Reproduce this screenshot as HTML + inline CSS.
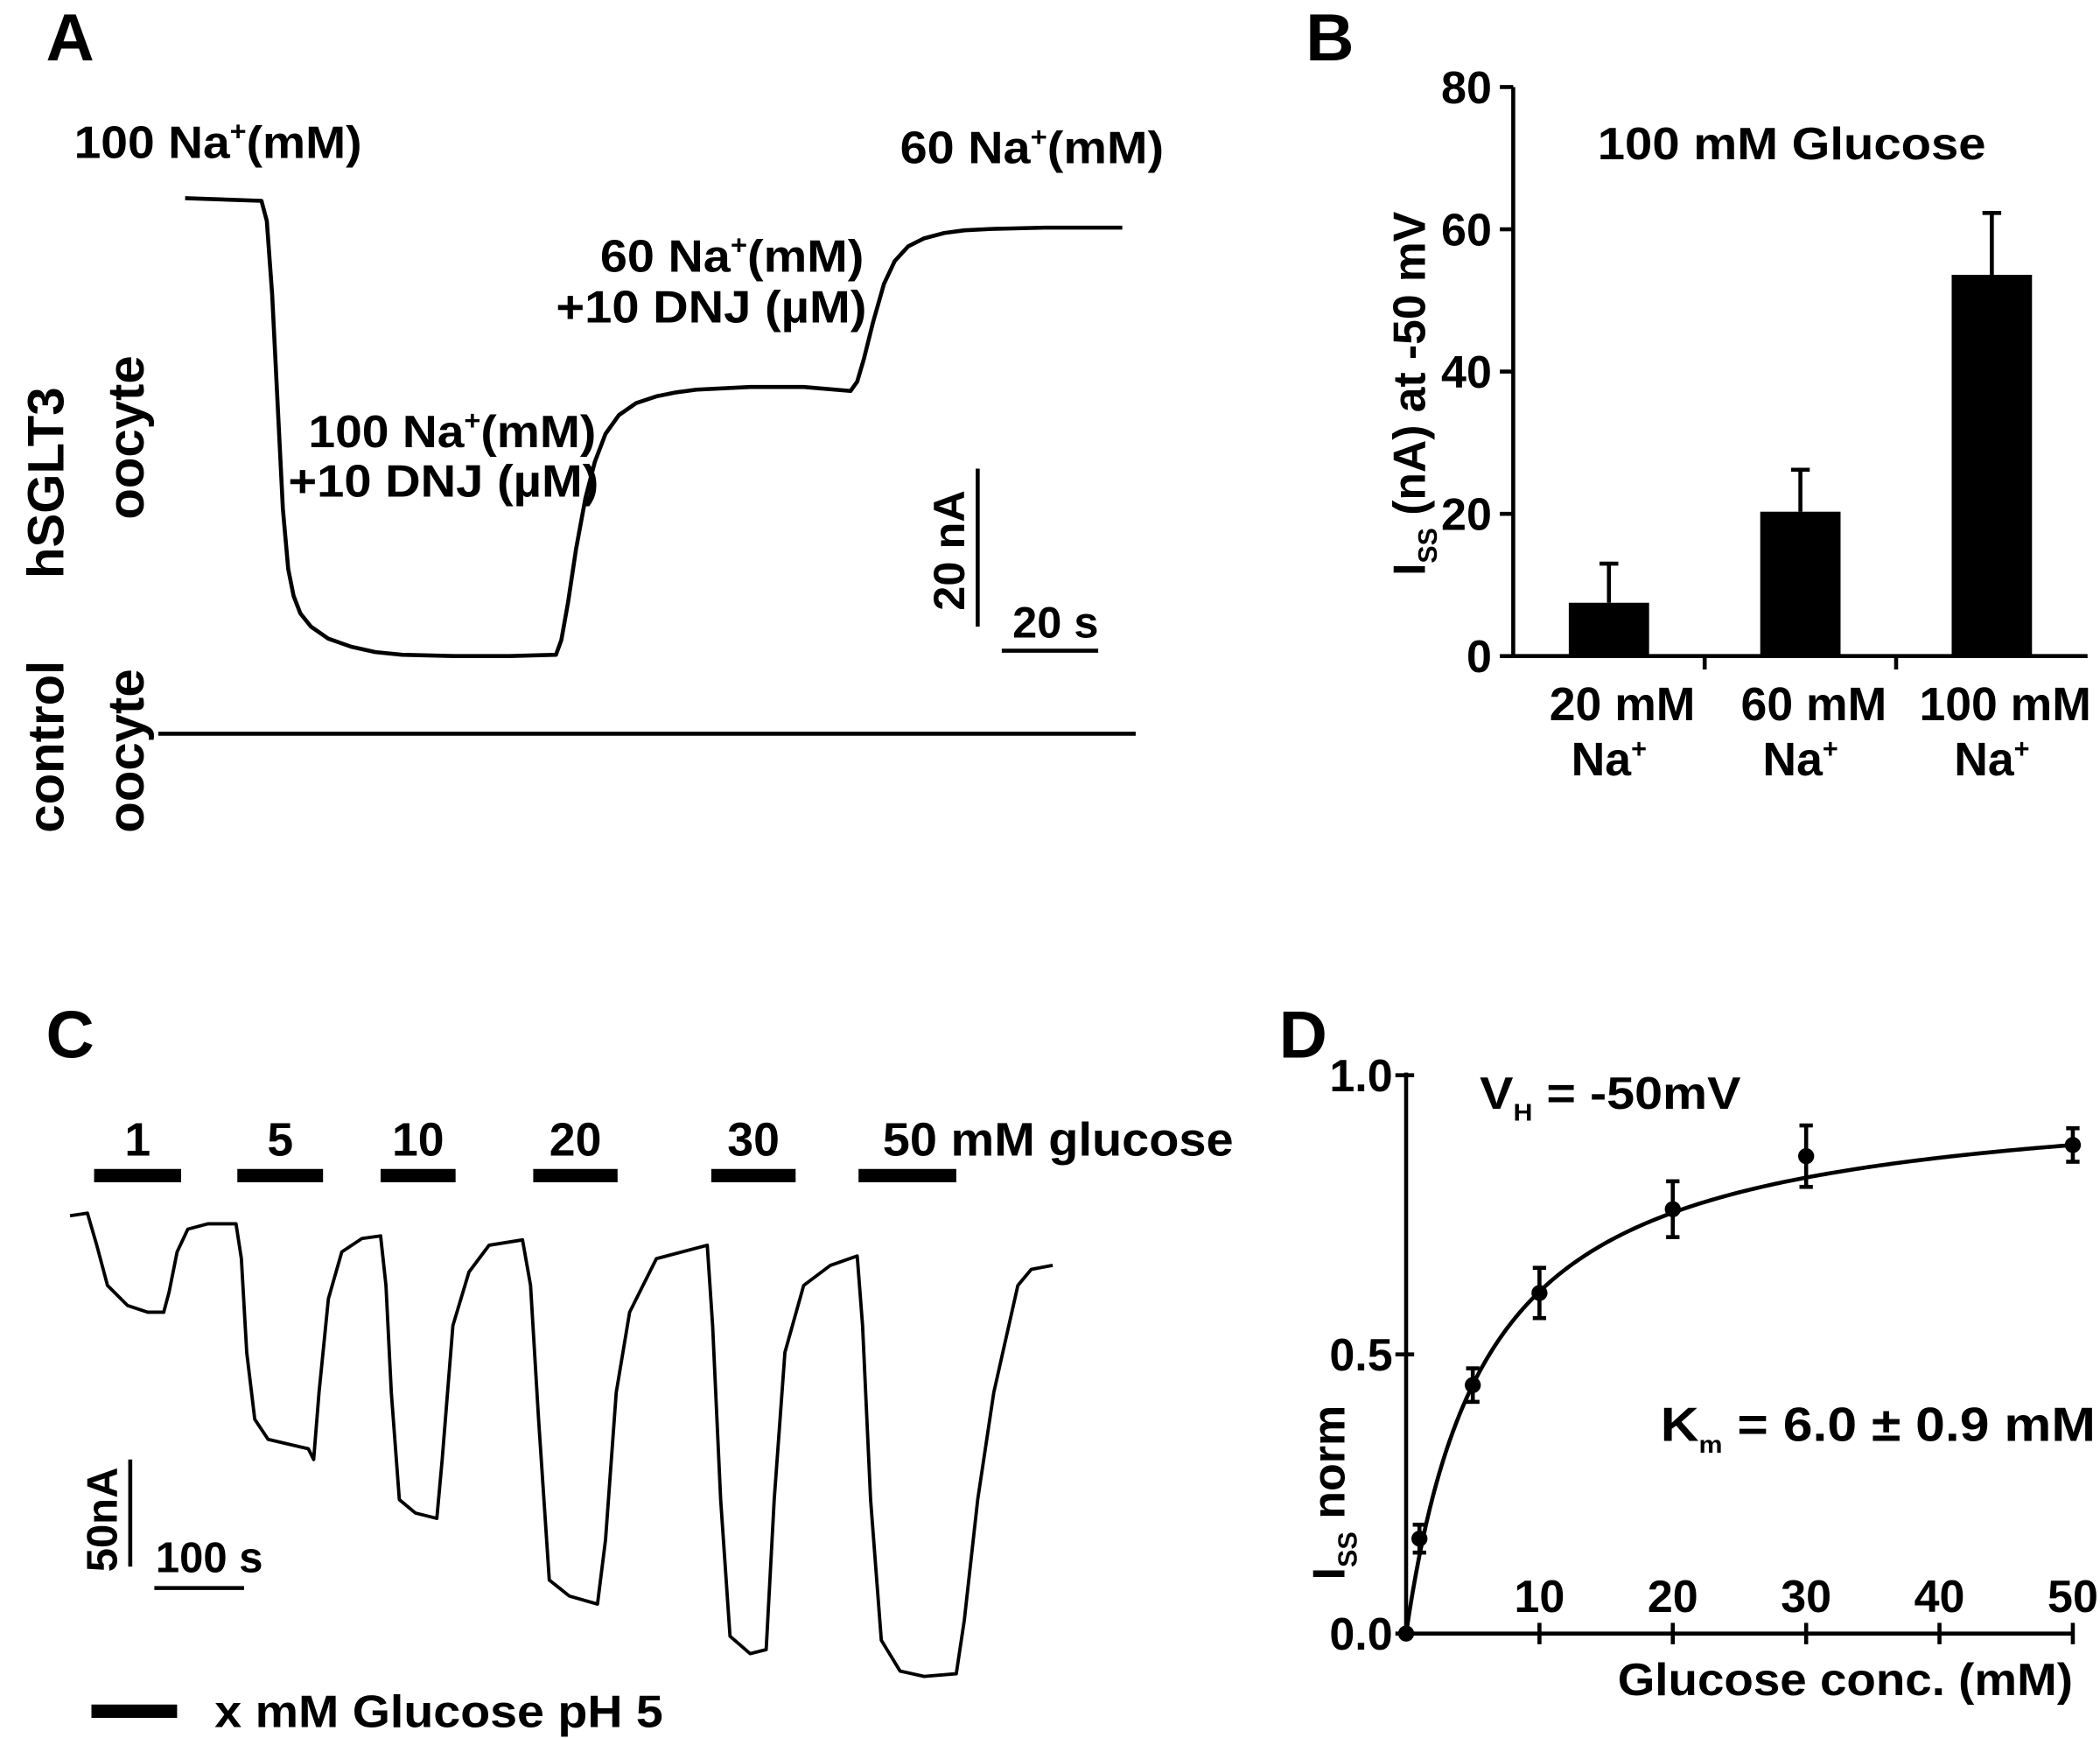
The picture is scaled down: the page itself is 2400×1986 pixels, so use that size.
<!DOCTYPE html>
<html><head><meta charset="utf-8"><style>
html,body{margin:0;padding:0;background:#fff}
svg{display:block}
text{font-family:"Liberation Sans",Arial,sans-serif;font-weight:bold;fill:#000}
</style></head><body>
<svg id="fig" width="2400" height="1986" viewBox="0 0 1568 1298" xmlns="http://www.w3.org/2000/svg">
<g>
<text x="34" y="45" font-size="50">A</text>
<text x="55" y="118" font-size="34" textLength="215" lengthAdjust="spacingAndGlyphs">100 Na<tspan font-size="20" dy="-13">+</tspan><tspan dy="13">(mM)</tspan></text>
<text x="672" y="122" font-size="34" textLength="197" lengthAdjust="spacingAndGlyphs">60 Na<tspan font-size="20" dy="-13">+</tspan><tspan dy="13">(mM)</tspan></text>
<text x="448" y="203" font-size="34" textLength="197" lengthAdjust="spacingAndGlyphs">60 Na<tspan font-size="20" dy="-13">+</tspan><tspan dy="13">(mM)</tspan></text>
<text x="415" y="241" font-size="34" textLength="232" lengthAdjust="spacingAndGlyphs">+10 DNJ (µM)</text>
<text x="230" y="334" font-size="34" textLength="215" lengthAdjust="spacingAndGlyphs">100 Na<tspan font-size="20" dy="-13">+</tspan><tspan dy="13">(mM)</tspan></text>
<text x="215" y="371" font-size="34" textLength="232" lengthAdjust="spacingAndGlyphs">+10 DNJ (µM)</text>
<text transform="translate(47,432) rotate(-90)" font-size="38">hSGLT3</text>
<text transform="translate(107,388) rotate(-90)" font-size="38">oocyte</text>
<text transform="translate(47,622) rotate(-90)" font-size="38">control</text>
<text transform="translate(107,622) rotate(-90)" font-size="38">oocyte</text>
<polyline id="traceA" fill="none" stroke="#000" stroke-width="3" stroke-linejoin="round"/>
<polyline id="traceCtl" fill="none" stroke="#000" stroke-width="3"/>
<line x1="730" y1="350" x2="730" y2="468" stroke="#000" stroke-width="3"/>
<line x1="748" y1="486" x2="820" y2="486" stroke="#000" stroke-width="3"/>
<text transform="translate(720,456) rotate(-90)" font-size="33">20 nA</text>
<text x="756" y="476" font-size="33">20 s</text>
</g>
<g id="panelB">
<text x="975" y="45" font-size="50">B</text>
<text x="1193" y="119" font-size="34" textLength="290" lengthAdjust="spacingAndGlyphs">100 mM Glucose</text>
<text transform="translate(1064,430) rotate(-90)" font-size="34" textLength="272" lengthAdjust="spacingAndGlyphs">I<tspan font-size="20" dy="9">SS</tspan><tspan dy="-9"> (nA) at -50 mV</tspan></text>
</g>
<g id="panelC">
<text x="34" y="790" font-size="50">C</text>
<polyline id="traceC" fill="none" stroke="#000" stroke-width="2.5" stroke-linejoin="round"/>
<line x1="97" y1="1090" x2="97" y2="1170" stroke="#000" stroke-width="3"/>
<line x1="115" y1="1186" x2="182" y2="1186" stroke="#000" stroke-width="3"/>
<text transform="translate(87,1174) rotate(-90)" font-size="32">50nA</text>
<text x="116" y="1174" font-size="32">100 s</text>
<line x1="68" y1="1278" x2="132" y2="1278" stroke="#000" stroke-width="10"/>
<text x="160" y="1290" font-size="34" textLength="335" lengthAdjust="spacingAndGlyphs">x mM Glucose pH 5</text>
</g>
<g id="panelD">
<text x="955" y="790" font-size="50">D</text>
<text x="1105" y="828" font-size="34" textLength="195" lengthAdjust="spacingAndGlyphs">V<tspan font-size="18" dy="9">H</tspan><tspan dy="-9"> = -50mV</tspan></text>
<text x="1240" y="1076" font-size="36" textLength="325" lengthAdjust="spacingAndGlyphs">K<tspan font-size="18" dy="9">m</tspan><tspan dy="-9"> = 6.0 ± 0.9 mM</tspan></text>
<text transform="translate(1004,1180) rotate(-90)" font-size="34">I<tspan font-size="20" dy="9">SS</tspan><tspan dy="-9"> norm</tspan></text>
<text x="1548" y="1266" font-size="34" text-anchor="end" textLength="340" lengthAdjust="spacingAndGlyphs">Glucose conc. (mM)</text>
</g>
</svg>
<script>
// Panel A trace
const traceAx=[138,195,199,203,207,211,215,219,224,232,245,262,280,300,340,380,415,419,424,430,437,444,452,462,475,490,505,520,560,600,635,640,645,652,660,668,678,690,705,720,740,780,838];
const traceAy=[148,150,165,220,300,380,425,445,458,468,477,483,487,489,490,490,489,478,450,410,372,345,324,310,301,296,293,291,289,289,292,285,268,240,212,195,184,178,174,172,171,170,170];
const ctlX=[118,848];const ctlY=[548,548];
// Panel B data
const catsB=["20 mM","60 mM","100 mM"];
const valsB=[7.5,20.3,53.6];
const errB=[13,26.2,62.3];
const ticksB=[0,20,40,60,80];
// Panel C trace
const traceCx=[52,65,72,80,95,110,122,126,132,140,155,176,180,184,190,200,230,234,238,245,255,270,284,288,292,298,310,326,330,338,350,365,390,396,402,410,425,446,452,460,470,490,528,532,538,545,560,572,578,586,600,620,640,644,650,658,672,690,714,720,730,742,760,770,786];
const traceCy=[908,906,930,960,975,980,980,965,935,918,914,914,940,1010,1060,1075,1082,1090,1040,970,935,925,923,960,1040,1120,1130,1134,1090,990,950,930,926,960,1060,1180,1192,1198,1150,1040,980,940,930,990,1120,1222,1235,1232,1120,1010,960,945,938,990,1120,1225,1248,1252,1250,1210,1120,1040,960,948,945];
const glucLabels=["1","5","10","20","30","50"];
const glucStart=[70,177,284,398,531,641];
const glucEnd=[135,241,340,461,594,714];
// Panel D data
const concD=[0,1,5,10,20,30,50];
const valD=[0,0.17,0.445,0.61,0.76,0.855,0.875];
const errD=[0,0.025,0.03,0.045,0.05,0.055,0.03];
const ticksDx=[10,20,30,40,50];
const ticksDy=[0,0.5,1.0];
const KM=6.0,VMAX=0.98;

const NS="http://www.w3.org/2000/svg";
function mk(tag,attrs,parent){const e=document.createElementNS(NS,tag);for(const k in attrs)e.setAttribute(k,attrs[k]);parent.appendChild(e);return e;}
function pts(xs,ys){return xs.map((x,i)=>x+","+ys[i]).join(" ");}
document.getElementById("traceA").setAttribute("points",pts(traceAx,traceAy));
document.getElementById("traceCtl").setAttribute("points",pts(ctlX,ctlY));
document.getElementById("traceC").setAttribute("points",pts(traceCx,traceCy));

// Panel B
const gB=document.getElementById("panelB");
const yB=v=>490-v*5.3125;
const bx0=1130,bw=143;
let e=mk("line",{x1:bx0,y1:yB(80),x2:bx0,y2:490,stroke:"#000","stroke-width":3},gB);


e=mk("line",{x1:bx0,y1:490,x2:bx0+3*bw,y2:490,stroke:"#000","stroke-width":3},gB);


ticksB.forEach(t=>{
  e=mk("line",{x1:bx0-10,y1:yB(t),x2:bx0,y2:yB(t),stroke:"#000","stroke-width":3},gB);
  
  
  e=mk("text",{x:bx0-16,y:yB(t)+12,"font-size":34,"text-anchor":"end"},gB);e.textContent=t;
  
  
});
[1,2].forEach(i=>{e=mk("line",{x1:bx0+i*bw,y1:490,x2:bx0+i*bw,y2:500,stroke:"#000","stroke-width":3},gB);
  
  });
catsB.forEach((c,i)=>{
  const cx=bx0+bw*(i+0.5);
  e=mk("line",{x1:cx,y1:yB(errB[i]),x2:cx,y2:yB(valsB[i]),stroke:"#000","stroke-width":3},gB);
  
  
  e=mk("line",{x1:cx-7,y1:yB(errB[i]),x2:cx+7,y2:yB(errB[i]),stroke:"#000","stroke-width":3},gB);
  
  
  e=mk("rect",{x:cx-30,y:yB(valsB[i]),width:60,height:490-yB(valsB[i]),fill:"#000"},gB);
  
  
  e=mk("text",{x:cx+10,y:538,"font-size":35,"text-anchor":"middle"},gB);e.textContent=c;
  
  
  e=mk("text",{x:cx,y:579,"font-size":35,"text-anchor":"middle"},gB);
  e.innerHTML='Na<tspan font-size="20" dy="-13">+</tspan>';
  
  
});

// Panel C bars
const gC=document.getElementById("panelC");
glucLabels.forEach((l,i)=>{
  e=mk("line",{x1:glucStart[i],y1:878,x2:glucEnd[i],y2:878,stroke:"#000","stroke-width":10},gC);
  
  
  const t=i===5?l+" mM glucose":l;
  e=mk("text",{x:i===5?glucStart[i]+18:(glucStart[i]+glucEnd[i])/2,y:863,"font-size":35,"text-anchor":i===5?"start":"middle"},gC);e.textContent=t;
  if(i===5){e.setAttribute("textLength","262");e.setAttribute("lengthAdjust","spacingAndGlyphs");}
  
  
});

// Panel D
const gD=document.getElementById("panelD");
const xD=v=>1050+v*9.96, yD=v=>1220-v*417;
e=mk("line",{x1:xD(0),y1:yD(1.0)-2,x2:xD(0),y2:yD(0),stroke:"#000","stroke-width":3},gD);


e=mk("line",{x1:xD(0),y1:yD(0),x2:xD(50),y2:yD(0),stroke:"#000","stroke-width":3},gD);


ticksDy.forEach(t=>{
  e=mk("line",{x1:xD(0)-8,y1:yD(t),x2:xD(0)+6,y2:yD(t),stroke:"#000","stroke-width":3},gD);
  
  
  e=mk("text",{x:xD(0)-10,y:yD(t)+12,"font-size":34,"text-anchor":"end"},gD);e.textContent=t.toFixed(1);
  
  
});
ticksDx.forEach(t=>{
  e=mk("line",{x1:xD(t),y1:yD(0)-8,x2:xD(t),y2:yD(0)+8,stroke:"#000","stroke-width":3},gD);
  
  
  e=mk("text",{x:xD(t),y:yD(0)-16,"font-size":34,"text-anchor":"middle"},gD);e.textContent=t;
  
  
});
let cp=[];for(let c=0;c<=50;c+=0.25){cp.push(xD(c)+","+yD(VMAX*c/(KM+c)));}
e=mk("polyline",{points:cp.join(" "),fill:"none",stroke:"#000","stroke-width":3},gD);


concD.forEach((c,i)=>{
  if(errD[i]>0){
    e=mk("line",{x1:xD(c),y1:yD(valD[i]+errD[i]),x2:xD(c),y2:yD(valD[i]-errD[i]),stroke:"#000","stroke-width":3},gD);
    
    
    [valD[i]+errD[i],valD[i]-errD[i]].forEach(v=>{
      e=mk("line",{x1:xD(c)-5,y1:yD(v),x2:xD(c)+5,y2:yD(v),stroke:"#000","stroke-width":3},gD);
      
      
    });
  }
  e=mk("circle",{cx:xD(c),cy:yD(valD[i]),r:6,fill:"#000"},gD);
  
  
});
</script>
</body></html>
